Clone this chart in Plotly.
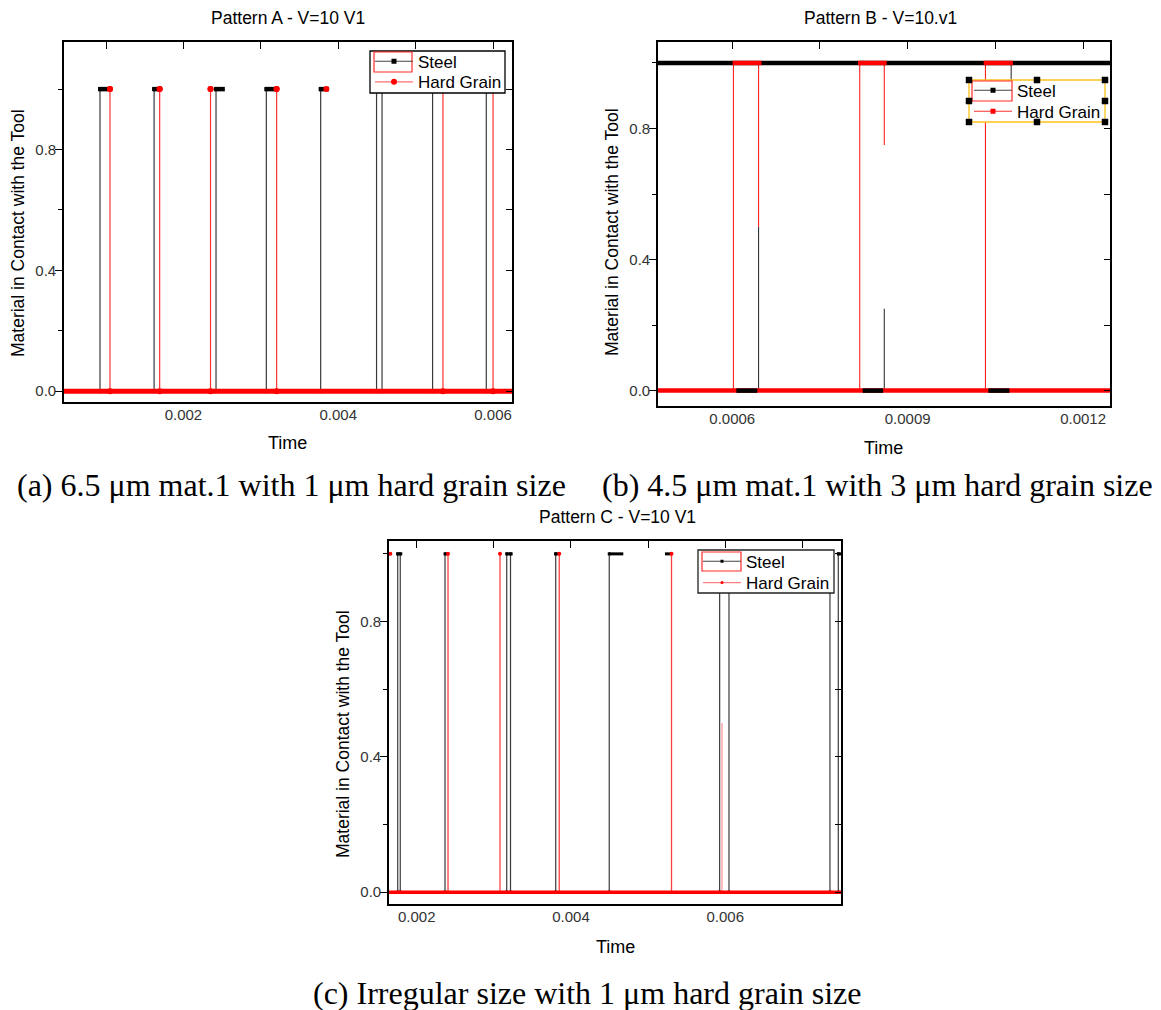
import plotly.graph_objects as go

W, H = 1161, 1010          # browser window
OFF = 8                    # default page margin of the html body
WF, HF = W - OFF, H - OFF  # figure size that fills the window

# ===================== DATA =====================
# Pattern A - 6.5 um mat.1 with 1 um hard grain
A_span = [0.0004, 0.0063]
A_steel_edges = [0.000922, 0.001621, 0.002421, 0.003071, 0.003773, 0.004495, 0.004566, 0.005219, 0.005913]
A_steel_top = [(0.000904, 0.001033), (0.001603, 0.001693), (0.002401, 0.002535),
               (0.003052, 0.003226), (0.003751, 0.003881)]
A_grain_edges = [0.001051, 0.001693, 0.002350, 0.003204, 0.005353, 0.006000]
A_grain_dots = [0.001051, 0.001693, 0.002350, 0.003204, 0.003847]
A_xlabels = [0.002, 0.004, 0.006]
A_xlabel_text = ["0.002", "0.004", "0.006"]
A_xtop = [0.001, 0.002, 0.003, 0.004, 0.005, 0.006]

# Pattern B - 4.5 um mat.1 with 3 um hard grain
B_span = [0.00045, 0.00126]
B_grain_on = [(0.0006005, 0.00065), (0.000815, 0.000864), (0.00103, 0.00108)]
B_steel_off = [(0.000607, 0.000643), (0.000823, 0.000858), (0.001038, 0.001074)]
B_grain_edges = [(0.000602, 0.0, 1.0), (0.000645, 0.5, 1.0), (0.000818, 0.0, 1.0),
                 (0.000860, 0.75, 1.0), (0.001033, 0.0, 1.0)]
B_steel_edges = [(0.000645, 0.0, 0.5), (0.000860, 0.0, 0.25), (0.001077, 0.85, 1.0)]
B_xlabels = [0.0006, 0.0009, 0.0012]
B_xlabel_text = ["0.0006", "0.0009", "0.0012"]
B_xtop = [0.0006, 0.00075, 0.0009, 0.00105, 0.0012]

# Pattern C - irregular size with 1 um hard grain
C_span = [0.0016, 0.0076]
C_steel_edges = [0.001754, 0.001787, 0.002367, 0.003167, 0.003216, 0.003802, 0.004496,
                 0.005927, 0.006048, 0.007357, 0.007465]
C_steel_top = [(0.001736, 0.001813), (0.002358, 0.002415), (0.003154, 0.003244),
               (0.003784, 0.003857), (0.004489, 0.004678), (0.005218, 0.005305),
               (0.007450, 0.007500)]
C_grain_edges = [0.002406, 0.003080, 0.003848, 0.005303]
C_grain_half = [(0.005957, 0.0, 0.5)]
C_grain_dots = [0.001658, 0.002406, 0.003080, 0.003848, 0.005303]
C_xlabels = [0.002, 0.004, 0.006]
C_xlabel_text = ["0.002", "0.004", "0.006"]
C_xtop = [0.002, 0.003, 0.004, 0.005, 0.006, 0.007]

Y_labels = [0.0, 0.4, 0.8]
Y_label_text = ["0.0", "0.4", "0.8"]
Y_minor = [0.2, 0.6, 1.0]
Y_right = [0.0, 0.2, 0.4, 0.6, 0.8, 1.0]

TITLES = ["Pattern A - V=10 V1", "Pattern B - V=10.v1", "Pattern C - V=10 V1"]
CAPTIONS = ["(a) 6.5 \u03bcm mat.1 with 1 \u03bcm hard grain size",
            "(b) 4.5 \u03bcm mat.1 with 3 \u03bcm hard grain size",
            "(c) Irregular size with 1 \u03bcm hard grain size"]
SERIES = ["Steel", "Hard Grain"]

# ===================== helpers =====================
SANS = "Liberation Sans, Arial, sans-serif"
SERIF = "Liberation Serif, Times New Roman, serif"
RED = "#ff0000"


def px(x):
    return (x - OFF) / WF


def py(y):
    return 1 - (y - OFF) / HF


def vlines(xs, y0=0.0, y1=1.0):
    X, Y = [], []
    for x in xs:
        X += [x, x, None]
        Y += [y0, y1, None]
    return X, Y


def vsegs(edges):
    X, Y = [], []
    for x, a, b in edges:
        X += [x, x, None]
        Y += [a, b, None]
    return X, Y


def hsegs(segs, y):
    X, Y = [], []
    for a, b in segs:
        X += [a, b, None]
        Y += [y, y, None]
    return X, Y


fig = go.Figure()


def add(x, y, ax, **kw):
    fig.add_trace(go.Scatter(x=x, y=y, xaxis=ax[0], yaxis=ax[1], showlegend=False,
                             hoverinfo="skip", **kw))


def add_legend(ax, legends, steel_marker, grain_marker, grain_line):
    fig.add_trace(go.Scatter(x=[None], y=[None], xaxis=ax[0], yaxis=ax[1], name=SERIES[0],
                             mode="lines+markers", legend=legends[0],
                             line=dict(color="#444444", width=1.2), marker=steel_marker))
    fig.add_trace(go.Scatter(x=[None], y=[None], xaxis=ax[0], yaxis=ax[1], name=SERIES[1],
                             mode="lines+markers", legend=legends[1],
                             line=dict(color=grain_line, width=1.2), marker=grain_marker))


# ----- Panel A -----
axA = ("x", "y")
X, Y = vlines(A_steel_edges)
add(X, Y, axA, mode="lines+markers", line=dict(color="#3a3a3a", width=1.2),
    marker=dict(symbol="square", size=4, color="black"))
X, Y = hsegs(A_steel_top, 1.0)
add(X, Y, axA, mode="lines", line=dict(color="black", width=4.5))
X, Y = vlines(A_grain_edges)
add(X, Y, axA, mode="lines+markers", line=dict(color="#ff3030", width=1.2),
    marker=dict(symbol="circle", size=6, color=RED))
add(A_grain_dots, [1.0] * len(A_grain_dots), axA, mode="markers",
    marker=dict(symbol="circle", size=6, color=RED))
add(A_span, [0.0, 0.0], axA, mode="lines", line=dict(color=RED, width=5))
add_legend(axA, ("legend", "legend2"), dict(symbol="square", size=5, color="black"),
           dict(symbol="circle", size=6, color=RED), "#ff7070")

# ----- Panel B -----
axB = ("x3", "y3")
X, Y = vsegs(B_grain_edges)
add(X, Y, axB, mode="lines", line=dict(color="#ff2020", width=1.1))
X, Y = vsegs(B_steel_edges)
add(X, Y, axB, mode="lines", line=dict(color="#333333", width=1.1))
add(B_span, [1.0, 1.0], axB, mode="lines", line=dict(color="black", width=4.5))
X, Y = hsegs(B_grain_on, 1.0)
add(X, Y, axB, mode="lines", line=dict(color=RED, width=4.5))
add(B_span, [0.0, 0.0], axB, mode="lines", line=dict(color=RED, width=4.5))
X, Y = hsegs(B_steel_off, 0.0)
add(X, Y, axB, mode="lines", line=dict(color="black", width=4.5))
add_legend(axB, ("legend3", "legend4"), dict(symbol="square", size=5, color="black"),
           dict(symbol="square", size=5, color=RED), "#ff3030")

# ----- Panel C -----
axC = ("x5", "y5")
X, Y = vlines(C_steel_edges)
add(X, Y, axC, mode="lines+markers", line=dict(color="#3a3a3a", width=1.2),
    marker=dict(symbol="square", size=3, color="black"))
X, Y = hsegs(C_steel_top, 1.0)
add(X, Y, axC, mode="lines", line=dict(color="black", width=3))
X, Y = vlines(C_grain_edges)
add(X, Y, axC, mode="lines", line=dict(color="#ff4040", width=1.3))
X, Y = vsegs(C_grain_half)
add(X, Y, axC, mode="lines", line=dict(color="#ff9a9a", width=1.3))
add(C_grain_dots, [1.0] * len(C_grain_dots), axC, mode="markers",
    marker=dict(symbol="circle", size=4, color=RED))
add(C_span, [0.0, 0.0], axC, mode="lines", line=dict(color=RED, width=3.5))
add_legend(axC, ("legend5", "legend6"), dict(symbol="square", size=3, color="black"),
           dict(symbol="circle", size=3, color=RED), "#ff8080")

# empty traces so that the mirrored frame axes (top / right) get drawn
for i in (2, 4, 6):
    fig.add_trace(go.Scatter(x=[None], y=[None], xaxis="x%d" % i, yaxis="y%d" % i,
                             showlegend=False, hoverinfo="skip", mode="lines"))

# ===================== axes =====================
layout = {}
TICKFONT = dict(family=SANS, size=15, color="#333333")


def nm(i):
    return "" if i == 1 else str(i)


def set_axes(i, box, xr, yr, xlabels, xtext, xtop):
    l, t, r, b = box
    dx = [px(l), px(r)]
    dy = [py(b), py(t)]
    common = dict(showline=True, linecolor="black", linewidth=1.6, showgrid=False,
                  zeroline=False, fixedrange=True)
    layout["xaxis" + nm(i)] = dict(domain=dx, range=xr, anchor="y" + nm(i), tickmode="array",
                                   tickvals=xlabels, ticktext=xtext, ticks="",
                                   ticklabelstandoff=-2, tickfont=TICKFONT, **common)
    layout["xaxis" + nm(i + 1)] = dict(overlaying="x" + nm(i), side="top", anchor="y" + nm(i + 1),
                                       range=xr, tickmode="array", tickvals=xtop,
                                       ticks="inside", ticklen=7, tickwidth=1.3,
                                       tickcolor="black", showticklabels=False, **common)
    layout["yaxis" + nm(i)] = dict(domain=dy, range=yr, anchor="x" + nm(i), tickmode="array",
                                   tickvals=Y_labels, ticktext=Y_label_text, ticks="outside",
                                   ticklen=7, tickwidth=1.3, tickcolor="black",
                                   ticklabelstandoff=-4, tickfont=TICKFONT,
                                   minor=dict(tickmode="array", tickvals=Y_minor,
                                              ticks="outside", ticklen=4, tickwidth=1.3,
                                              tickcolor="black", showgrid=False),
                                   **common)
    layout["yaxis" + nm(i + 1)] = dict(overlaying="y" + nm(i), side="right", anchor="x" + nm(i + 1),
                                       range=yr, tickmode="array", tickvals=Y_right,
                                       ticks="inside", ticklen=6, tickwidth=1.3,
                                       tickcolor="black", showticklabels=False, **common)


set_axes(1, (64, 42, 512, 402), [0.000457, 0.006245], [-0.036, 1.156], A_xlabels, A_xlabel_text, A_xtop)
set_axes(3, (658, 42, 1110, 406), [0.000473, 0.001246], [-0.047, 1.064], B_xlabels, B_xlabel_text, B_xtop)
set_axes(5, (389, 541, 841, 904), [0.001641, 0.0075], [-0.035, 1.038], C_xlabels, C_xlabel_text, C_xtop)

# ===================== legends & legend frames =====================
LEGFONT = dict(family=SANS, size=17, color="black")


def legend_cfg(left, center):
    return dict(x=px(left), y=py(center - 18), xanchor="left", yanchor="top",
                bgcolor="rgba(0,0,0,0)", borderwidth=0, font=LEGFONT, itemwidth=38,
                tracegroupgap=0, traceorder="normal")


layout["legend"] = legend_cfg(370, 61.7)
layout["legend2"] = legend_cfg(370, 82.3)
layout["legend3"] = legend_cfg(969, 90.7)
layout["legend4"] = legend_cfg(969, 111.7)
layout["legend5"] = legend_cfg(698, 561.7)
layout["legend6"] = legend_cfg(698, 583.0)

shapes = []


def rect(l, t, r, b, line, fill="rgba(0,0,0,0)", width=1.2):
    shapes.append(dict(type="rect", xref="paper", yref="paper", x0=px(l), x1=px(r),
                       y0=py(b), y1=py(t), line=dict(color=line, width=width),
                       fillcolor=fill, layer="above"))


# legend boxes
rect(370, 51, 505, 93, "black", "white", 1.3)
rect(969, 80, 1105, 122, "#ffc21a", "white", 1.3)
rect(698, 550, 834, 593, "#222222", "white", 1.3)
# red selection frames around the "Steel" sample
rect(374, 52, 412, 72, "#ff2a2a", width=1.2)
rect(972, 81, 1012, 101, "#ff2a2a", width=1.2)
rect(702, 552, 741, 571, "#ff2a2a", width=1.2)
# selection handles on legend B
for hx in (969, 1037, 1105):
    for hy in (80, 101, 122):
        if hx == 1037 and hy == 101:
            continue
        rect(hx - 3, hy - 3, hx + 3, hy + 3, "black", "black", 0.5)

layout["shapes"] = shapes

# ===================== text =====================
ann = []


def text(x, y, s, size, family=SANS, angle=0, color="black"):
    ann.append(dict(x=px(x), y=py(y), xref="paper", yref="paper", text=s, showarrow=False,
                    xanchor="center", yanchor="middle", textangle=angle,
                    font=dict(family=family, size=size, color=color)))


text(288, 18, TITLES[0], 17.5)
text(880, 18, TITLES[1], 17.5)
text(617, 517, TITLES[2], 17.5)
for (x, y) in [(18, 233), (612, 232), (343, 734)]:
    text(x, y, "Material in Contact with the Tool", 17.5, angle=-90)
for (x, y) in [(287, 443), (883, 448), (615, 947)]:
    text(x, y, "Time", 18)
text(291, 485, CAPTIONS[0], 32, SERIF)
text(877, 485, CAPTIONS[1], 32, SERIF)
text(587, 993, CAPTIONS[2], 32, SERIF)
layout["annotations"] = ann

fig.update_layout(width=WF, height=HF, margin=dict(l=0, r=0, t=0, b=0),
                  paper_bgcolor="white", plot_bgcolor="white", **layout)

fig.write_html("out.html")
